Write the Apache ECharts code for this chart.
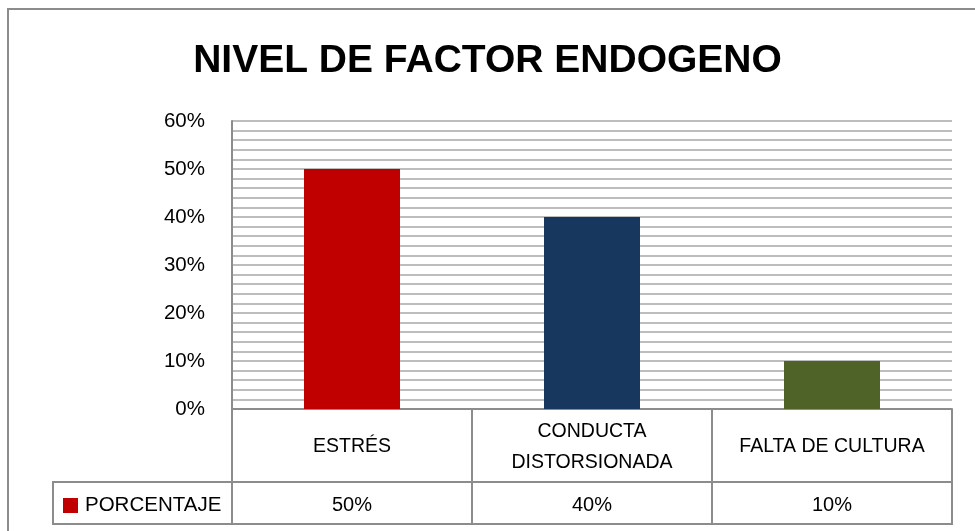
<!DOCTYPE html>
<html><head><meta charset="utf-8">
<script src="https://cdn.jsdelivr.net/npm/echarts@6/dist/echarts.min.js"></script>
<style>html,body{margin:0;padding:0;background:#fff}#c{width:975px;height:531px}</style>
</head><body><div id="c"></div>
<script>
const titleText = 'NIVEL DE FACTOR ENDOGENO';
const categories = ['ESTRÉS', 'CONDUCTA\nDISTORSIONADA', 'FALTA DE CULTURA'];
const seriesName = 'PORCENTAJE';
const values = [0.5, 0.4, 0.1];
const barColors = ['#C00000', '#17375E', '#4F6228'];
const yTicks = [0, 0.1, 0.2, 0.3, 0.4, 0.5, 0.6];

const FONT = '"Liberation Sans", Arial, sans-serif';
const GRID = {left: 232, right: 23, top: 121, bottom: 122};
const LINE = '#8c8c8c';
const pct = v => Math.round(v * 100) + '%';

const chart = echarts.init(document.getElementById('c'), null, {renderer: 'canvas'});
const H = 531, W = 975;
const axisY = H - GRID.bottom;       // 409
const row2Y = axisY + 73;            // 482
const row3Y = axisY + 115;           // 524
const tableLeft = 53;
const rightX = W - GRID.right;

chart.setOption({
  backgroundColor: '#fff',
  animation: false,
  textStyle: {fontFamily: FONT},
  title: {
    text: titleText, left: 'center', top: 37,
    textStyle: {fontFamily: FONT, fontWeight: 'bold', fontSize: 39, color: '#000'}
  },
  legend: {
    show: true, left: 63, top: 495, padding: 0, itemWidth: 15, itemHeight: 15, itemGap: 0,
    icon: 'rect',
    textStyle: {fontFamily: FONT, fontSize: 20.5, color: '#000', padding: [2, 0, 0, 2]},
    data: [seriesName]
  },
  grid: GRID,
  xAxis: [{
    type: 'category', data: categories, position: 'bottom',
    axisLine: {show: true, lineStyle: {color: LINE, width: 2}},
    axisTick: {show: true, alignWithLabel: false, length: 115, lineStyle: {color: LINE, width: 2}},
    axisLabel: {
      interval: 0, margin: 38, verticalAlign: 'middle', lineHeight: 31,
      fontFamily: FONT, fontSize: 19.5, color: '#000'
    }
  }, {
    type: 'category', data: values.map(pct), position: 'bottom', offset: 73,
    axisLine: {show: true, lineStyle: {color: LINE, width: 2}},
    axisTick: {show: true, alignWithLabel: false, length: 42, lineStyle: {color: LINE, width: 2}},
    axisLabel: {
      interval: 0, margin: 23, verticalAlign: 'middle',
      fontFamily: FONT, fontSize: 20, color: '#000'
    }
  }],
  yAxis: {
    type: 'value', min: yTicks[0], max: yTicks[yTicks.length - 1], interval: 0.1,
    axisLine: {show: true, lineStyle: {color: LINE, width: 2}},
    axisTick: {show: false},
    minorTick: {show: false, splitNumber: 5},
    splitLine: {show: true, lineStyle: {color: '#bdbdbd', width: 2}},
    minorSplitLine: {show: true, lineStyle: {color: '#bdbdbd', width: 2}},
    axisLabel: {margin: 27, formatter: pct, fontFamily: FONT, fontSize: 20.5, color: '#000'}
  },
  series: [{
    name: seriesName, type: 'bar', xAxisIndex: 0, barWidth: '40%',
    itemStyle: {color: barColors[0]},
    data: values.map((v, i) => ({value: v, itemStyle: {color: barColors[i]}}))
  }],
  graphic: [
    {type: 'rect', shape: {x: 8, y: 9, width: W + 20, height: H + 20}, style: {fill: 'none', stroke: LINE, lineWidth: 2}, z: 100},
    {type: 'line', shape: {x1: tableLeft, y1: row2Y, x2: GRID.left, y2: row2Y}, style: {stroke: LINE, lineWidth: 2}, z: 100},
    {type: 'line', shape: {x1: tableLeft, y1: row3Y, x2: rightX + 1, y2: row3Y}, style: {stroke: LINE, lineWidth: 2}, z: 100},
    {type: 'line', shape: {x1: tableLeft, y1: row2Y - 1, x2: tableLeft, y2: row3Y + 1}, style: {stroke: LINE, lineWidth: 2}, z: 100}
  ]
});
</script></body></html>
